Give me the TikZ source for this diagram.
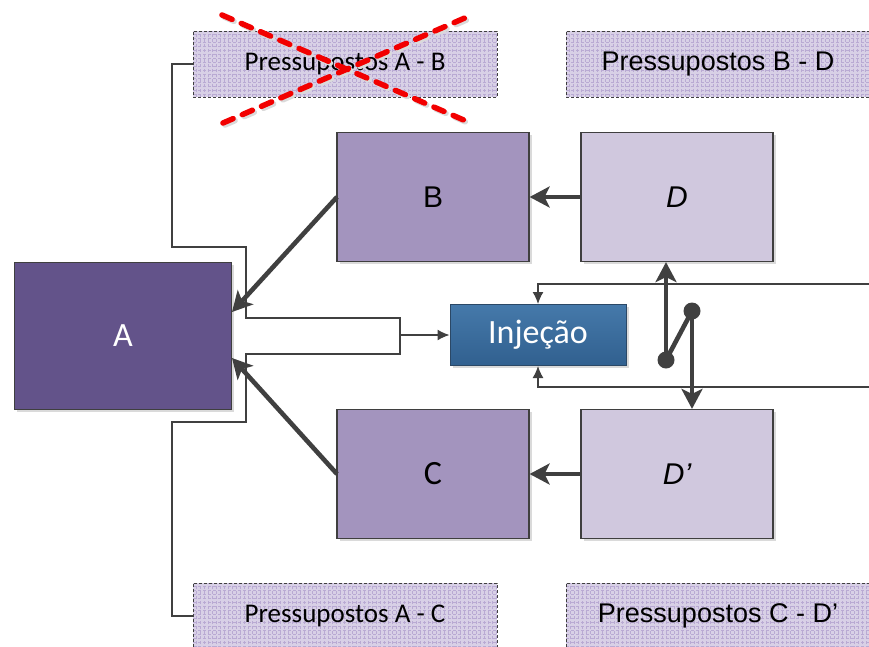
\documentclass[tikz,border=0pt]{standalone}
\usepackage{fontspec}
\setmainfont{Liberation Sans}
\newfontfamily\calfont{Carlito}
\usetikzlibrary{arrows.meta}

\definecolor{edgec}{HTML}{3F3F3F}
\definecolor{linec}{HTML}{404040}
\definecolor{afill}{HTML}{63538A}
\definecolor{bfill}{HTML}{A394BE}
\definecolor{dfill}{HTML}{D0C8DE}
\definecolor{pfill}{HTML}{D8D0E6}
\definecolor{gridc}{HTML}{B9AAD3}
\definecolor{injtop}{HTML}{4579AA}
\definecolor{injbot}{HTML}{31608F}
\definecolor{injedge}{HTML}{2B4866}
\definecolor{shadowc}{HTML}{DADADA}
\definecolor{crossc}{HTML}{F20000}

\tikzset{
  shadowed/.style={preaction={draw=none, fill=shadowc,
      transform canvas={xshift=2.5pt, yshift=-2.5pt}}},
  block/.style={shadowed, draw=edgec, line width=1.2pt, inner sep=0pt,
      minimum width=192pt, minimum height=129pt},
  blockA/.style={block, fill=afill, text=white, minimum width=217pt,
      minimum height=147pt, font=\calfont\fontsize{34}{40}\selectfont},
  blockB/.style={block, fill=bfill, font=\fontsize{30}{36}\selectfont},
  blockC/.style={block, fill=bfill, font=\calfont\fontsize{34}{40}\selectfont},
  blockD/.style={block, fill=dfill, font=\itshape\fontsize{30}{36}\selectfont},
  injbox/.style={shadowed, draw=injedge, line width=1pt, inner sep=0pt,
      top color=injtop, bottom color=injbot, text=white,
      minimum width=176pt, minimum height=61pt,
      font=\calfont\fontsize{34}{40}\selectfont},
  premise/.style={draw=edgec, densely dashed, line width=0.9pt, fill=pfill,
      inner sep=0pt, minimum width=304pt, minimum height=66pt,
      path picture={\draw[gridc, line width=0.5pt]
        (path picture bounding box.south west)
        grid[step=4pt] (path picture bounding box.north east);}},
  premiseArial/.style={premise, font=\fontsize{27}{32}\selectfont},
  premiseCal/.style={premise, font=\calfont\fontsize{27}{32}\selectfont},
  thinline/.style={draw=linec, line width=1.4pt},
  thinarrow/.style={thinline, -{Latex[length=12pt, width=11pt]}},
  thickline/.style={draw=linec, line width=4.6pt},
  thickarrow/.style={thickline, -{Stealth[length=20pt, width=21pt, inset=5pt]}},
  crossline/.style={crossc, line width=5.5pt, line cap=round,
      dash pattern=on 11pt off 10pt},
  crossshadow/.style={crossline, draw=shadowc,
      transform canvas={xshift=2pt, yshift=-2pt}},
}

\begin{document}
\begin{tikzpicture}[x=1pt, y=-1pt]
\useasboundingbox (0,0) rectangle (869,646);
\clip (0,0) rectangle (869,646);

% premise boxes
\node[premiseCal]   (PAB) at (345,64)  {Pressupostos A - B};
\node[premiseArial] (PBD) at (718,64)  {Pressupostos B - D};
\node[premiseCal]   (PAC) at (345,616) {Pressupostos A - C};
\node[premiseArial] (PCD) at (718,616) {Pressupostos C - D’};

% main blocks
\node[blockA] (A)  at (123,336) {A};
\node[blockB] (B)  at (433,197) {B};
\node[blockC] (C)  at (433,474) {C};
\node[blockD] (D)  at (677,197) {D};
\node[blockD] (Dp) at (677,474) {D’};
\node[injbox] (inj) at (538,335) {Injeção};

% bracket joining the premises with the injection
\draw[thinline] (PAB.west) -- (172,64) |- (246,247) -- (246,318)
  -- (400,318) -- (400,354) -- (246,354) -- (246,422) -- (172,422)
  |- (PAC.west);
\coordinate (fork) at (400,335);
\draw[thinarrow] (fork) -- (inj.west);

% feedback lines from the right
\coordinate (rtop) at (869,284);
\coordinate (rbot) at (869,387);
\draw[thinarrow] (rtop) -| (inj.north);
\draw[thinarrow] (rbot) -| (inj.south);

% dependencies between the blocks
\coordinate (Bout) at (337,197);
\coordinate (Cout) at (337,474);
\coordinate (Ain1) at (232,312);
\coordinate (Ain2) at (232,358);
\draw[thickarrow] (Bout) -- (Ain1);
\draw[thickarrow] (Cout) -- (Ain2);
\draw[thickarrow] (D.west) -- (B.east);
\draw[thickarrow] (Dp.west) -- (C.east);

% switch between D and D'
\coordinate (sw1) at (666,360);
\coordinate (sw2) at (692,311);
\draw[thickline] (sw1) -- (sw2);
\draw[thickarrow] (sw1) -- (sw1 |- D.south);
\draw[thickarrow] (sw2) -- (sw2 |- Dp.north);
\fill[linec] (sw1) circle (8.5pt);
\fill[linec] (sw2) circle (8.5pt);

% crossed-out premise
\coordinate (x1) at (222,15);
\coordinate (x2) at (466,121);
\coordinate (x3) at (223,123);
\coordinate (x4) at (467,17);
\draw[crossshadow] (x1) -- (x2);
\draw[crossshadow] (x3) -- (x4);
\draw[crossline] (x1) -- (x2);
\draw[crossline] (x3) -- (x4);
\end{tikzpicture}
\end{document}
